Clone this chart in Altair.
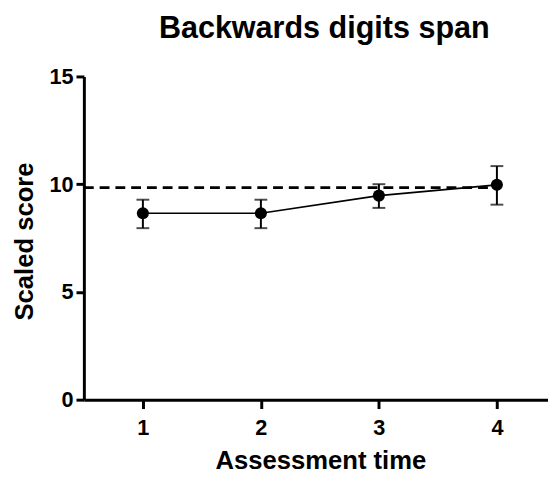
import altair as alt
import pandas as pd

times = [1, 2, 3, 4]
means = [8.65, 8.65, 9.47, 9.97]
upper = [9.28, 9.28, 10.0, 10.84]
lower = [7.96, 7.96, 8.9, 9.05]
ref_x = [0.5, 4.0]
ref_y = [9.84, 9.84]
title_text = ["Backwards digits span"]

FONT = "Liberation Sans"

df = pd.DataFrame({"time": times, "mean": means, "upper": upper, "lower": lower})
caps = pd.DataFrame({"time": times + times, "cap": upper + lower})
ref = pd.DataFrame({"x": ref_x, "y": ref_y})
tdf = pd.DataFrame({"t": title_text})

xscale = alt.Scale(domain=[0.5, 4.433], nice=False, zero=False)
yscale = alt.Scale(domain=[0, 15], nice=False, zero=True)

xaxis = alt.Axis(
    values=times, format="d", title="Assessment time", grid=False,
    labelFont=FONT, labelFontSize=22, labelFontWeight="bold", labelColor="black",
    labelPadding=9, tickSize=9, tickWidth=3, tickColor="black",
    domainWidth=3, domainColor="black",
    titleFont=FONT, titleFontSize=26, titleFontWeight="bold", titleColor="black",
    titleX=240, titleY=70, titleBaseline="alphabetic", titleAlign="center",
)
yaxis = alt.Axis(
    values=[0, 5, 10, 15], format="d", title="Scaled score", grid=False,
    labelFont=FONT, labelFontSize=22, labelFontWeight="bold", labelColor="black",
    labelPadding=3, tickSize=8, tickWidth=3, tickColor="black",
    domainWidth=3, domainColor="black",
    titleFont=FONT, titleFontSize=26, titleFontWeight="bold", titleColor="black",
    titleX=-52, titleY=167, titleBaseline="alphabetic", titleAlign="center", titleAngle=270,
)

base = alt.Chart(df)

refline = alt.Chart(ref).mark_line(color="black", strokeWidth=3, strokeDash=[10, 6]).encode(
    x=alt.X("x:Q", scale=xscale, axis=xaxis),
    y=alt.Y("y:Q", scale=yscale, axis=yaxis),
)

line = base.mark_line(color="black", strokeWidth=1.6).encode(
    x=alt.X("time:Q", scale=xscale),
    y=alt.Y("mean:Q", scale=yscale),
)

rules = base.mark_rule(color="black", strokeWidth=2).encode(
    x=alt.X("time:Q", scale=xscale),
    y=alt.Y("lower:Q", scale=yscale),
    y2="upper:Q",
)

capmarks = alt.Chart(caps).mark_tick(color="black", orient="horizontal", size=13, thickness=2).encode(
    x=alt.X("time:Q", scale=xscale),
    y=alt.Y("cap:Q", scale=yscale),
)

points = base.mark_point(filled=True, color="black", opacity=1, size=150, shape="circle").encode(
    x=alt.X("time:Q", scale=xscale),
    y=alt.Y("mean:Q", scale=yscale),
)

title = alt.Chart(tdf).mark_text(
    font=FONT, fontSize=31, fontWeight="bold", color="black",
    align="center", baseline="alphabetic",
).encode(text="t:N", x=alt.value(244), y=alt.value(-39))

chart = alt.layer(refline, line, rules, capmarks, points, title).properties(
    width=471,
    height=328,
    autosize=alt.AutoSizeParams(type="none"),
    padding={"left": 77, "top": 66, "right": 0, "bottom": 75},
    background="white",
).configure_view(stroke=None)

chart.save("out.html", embed_options={"renderer": "svg", "actions": False})
